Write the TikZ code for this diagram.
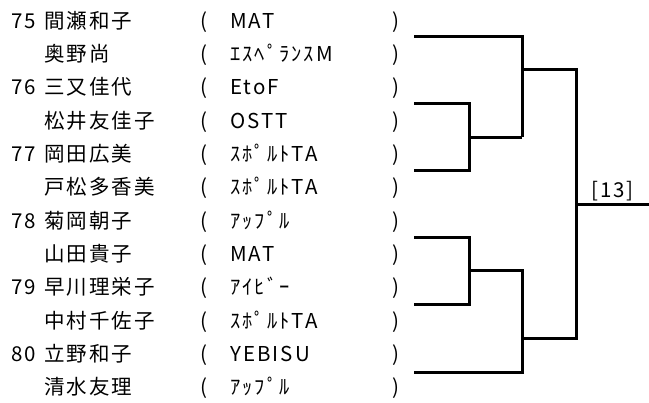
\documentclass[tikz,border=0pt]{standalone}
\usepackage{fontspec}
\newfontfamily\jp[LetterSpace=10]{Noto Sans CJK JP}
\begin{document}
\begin{tikzpicture}[x=1pt,y=-1pt,
  txt/.style={anchor=base west,inner sep=0pt,font=\jp\fontsize{20.5}{24}\selectfont},
  bline/.style={line width=3pt,line join=miter,line cap=butt}]
\useasboundingbox (0,0) rectangle (649,403);
% numbers
\node[txt] (num75) at (11,28.4) {75};
\node[txt] (num76) at (11,95.0) {76};
\node[txt] (num77) at (11,161.6) {77};
\node[txt] (num78) at (11,228.2) {78};
\node[txt] (num79) at (11,294.8) {79};
\node[txt] (num80) at (11,361.4) {80};
% names
\node[txt] (nm0)  at (44,28.4)  {間瀬和子};
\node[txt] (nm1)  at (44,61.7)  {奥野尚};
\node[txt] (nm2)  at (44,95.0)  {三又佳代};
\node[txt] (nm3)  at (44,128.3) {松井友佳子};
\node[txt] (nm4)  at (44,161.6) {岡田広美};
\node[txt] (nm5)  at (44,194.9) {戸松多香美};
\node[txt] (nm6)  at (44,228.2) {菊岡朝子};
\node[txt] (nm7)  at (44,261.5) {山田貴子};
\node[txt] (nm8)  at (44,294.8) {早川理栄子};
\node[txt] (nm9)  at (44,328.1) {中村千佐子};
\node[txt] (nm10) at (44,361.4) {立野和子};
\node[txt] (nm11) at (44,394.7) {清水友理};
% clubs
\node[txt] (cl0)  at (230,28.4)  {MAT};
\node[txt] (cl1)  at (230,61.7)  {ｴｽﾍﾟﾗﾝｽM};
\node[txt] (cl2)  at (230,95.0)  {EtoF};
\node[txt] (cl3)  at (230,128.3) {OSTT};
\node[txt] (cl4)  at (230,161.6) {ｽﾎﾟﾙﾄTA};
\node[txt] (cl5)  at (230,194.9) {ｽﾎﾟﾙﾄTA};
\node[txt] (cl6)  at (230,228.2) {ｱｯﾌﾟﾙ};
\node[txt] (cl7)  at (230,261.5) {MAT};
\node[txt] (cl8)  at (230,294.8) {ｱｲﾋﾞｰ};
\node[txt] (cl9)  at (230,328.1) {ｽﾎﾟﾙﾄTA};
\node[txt] (cl10) at (230,361.4) {YEBISU};
\node[txt] (cl11) at (230,394.7) {ｱｯﾌﾟﾙ};
% parentheses
\foreach \i in {0,...,11}{
  \node[txt] (lp\i) at (200,{28.4+33.3*\i}) {(};
  \node[txt] (rp\i) at (392,{28.4+33.3*\i}) {)};
}
% bracket coordinates
\coordinate (a0) at (414,36.3);
\coordinate (a1) at (522,36.3);
\coordinate (a2) at (522,137.3);
\coordinate (b0) at (414,103.3);
\coordinate (b1) at (469,103.3);
\coordinate (b2) at (469,171);
\coordinate (b3) at (414,171);
\coordinate (bm) at (469,137.3);
\coordinate (t0) at (522,70);
\coordinate (t1) at (576,70);
\coordinate (t2) at (576,338.3);
\coordinate (t3) at (522,338.3);
\coordinate (c0) at (414,237.7);
\coordinate (c1) at (469,237.7);
\coordinate (c2) at (469,304.3);
\coordinate (c3) at (414,304.3);
\coordinate (cm) at (469,271);
\coordinate (d0) at (522,271);
\coordinate (d1) at (522,372.5);
\coordinate (d2) at (414,372.5);
\coordinate (f0) at (576,204.3);
\coordinate (f1) at (649,204.3);
\draw[bline] (a0) -- (a1) -- (a2);
\draw[bline] (b0) -- (b1) -- (b2) -- (b3);
\draw[bline] (bm) -- (a2);
\draw[bline] (t0) -- (t1) -- (t2) -- (t3);
\draw[bline] (c0) -- (c1) -- (c2) -- (c3);
\draw[bline] (cm) -- (d0) -- (d1) -- (d2);
\draw[bline] (f0) -- (f1);
\node[txt,anchor=base] (res) at (612.5,197.5) {[13]};
\end{tikzpicture}
\end{document}
